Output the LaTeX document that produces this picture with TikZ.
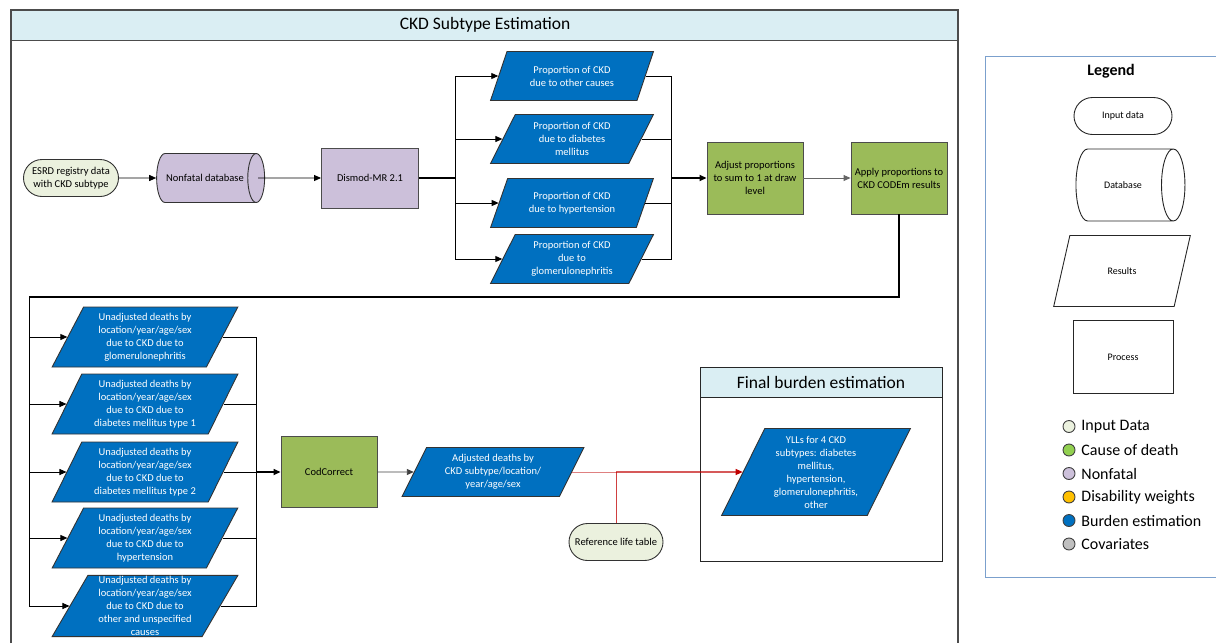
\documentclass[tikz,border=0pt]{standalone}
\usepackage{fontspec}
\setmainfont{Carlito}
\usetikzlibrary{arrows.meta, shapes.geometric, shapes.misc}

\definecolor{ckdblue}{HTML}{0070C0}
\definecolor{ckdgreen}{HTML}{9BBB59}
\definecolor{nfpurple}{HTML}{CCC0DA}
\definecolor{inputcol}{HTML}{EBF1DE}
\definecolor{bandblue}{HTML}{DAEEF3}
\definecolor{ckdred}{HTML}{C00000}
\definecolor{legblue}{HTML}{7BA0CD}
\definecolor{codgreen}{HTML}{92D050}
\definecolor{dwyellow}{HTML}{FFC000}
\definecolor{covgray}{HTML}{BFBFBF}

\begin{document}
\begin{tikzpicture}[x=1pt, y=-1pt, >={Triangle[length=7pt, width=6pt]}, line width=0.9pt,
  thick/.style={line width=1.6pt},
  every node/.style={font=\fontsize{10.5}{13}\selectfont, align=center, inner sep=1pt},
  inputbox/.style={rounded rectangle, draw=black!80, fill=inputcol, minimum width=97, minimum height=37},
  procbox/.style={rectangle, draw=black!70, fill=ckdgreen, minimum width=96, minimum height=72},
  nfbox/.style={rectangle, draw=black!70, fill=nfpurple, minimum width=97, minimum height=60},
  dbbox/.style={cylinder, aspect=1.8, draw=black!80, fill=nfpurple, minimum width=49, minimum height=108},
  resbox/.style={trapezium, trapezium left angle=64, trapezium right angle=116, trapezium stretches=true,
    draw=black!80, fill=ckdblue, text=white},
  propbox/.style={resbox, minimum width=163, minimum height=49},
  deathbox/.style={resbox, minimum width=186, minimum height=60},
  bandtitle/.style={font=\fontsize{17.5}{20}\selectfont},
  legitem/.style={anchor=west, font=\fontsize{16}{18}\selectfont},
  legdot/.style={circle, draw=black!75, minimum size=12, inner sep=0pt},
  legshape/.style={draw=black!85, font=\fontsize{10}{12}\selectfont}]
\useasboundingbox (0,0) rectangle (1216,643);

% outer frame
\fill[bandblue] (11,10) rectangle (958,40);
\draw[black!70, line width=1.4pt] (11,643) |- (958,10) -- (958,643);
\draw[black!70] (11,40) -- (958,40);
\node[bandtitle] (maintitle) at (485,25) {CKD Subtype Estimation};

% nonfatal branch
\node[inputbox] (esrd) at (71,178) {ESRD registry data\\with CKD subtype};
\node[dbbox] (nfdb) at (205,178) {Nonfatal database};
\node[nfbox] (dismod) at (370,178) {Dismod-MR 2.1};

\node[propbox] (p1) at (572,76) {Proportion of CKD\\due to other causes};
\node[propbox] (p2) at (572,139) {Proportion of CKD\\due to diabetes\\mellitus};
\node[propbox] (p3) at (572,203) {Proportion of CKD\\due to hypertension};
\node[propbox] (p4) at (572,259) {Proportion of CKD\\due to\\glomerulonephritis};

\node[procbox] (adjust) at (755,178) {Adjust proportions\\to sum to 1 at draw\\level};
\node[procbox] (apply) at (899,178) {Apply proportions to\\CKD CODEm results};

\coordinate (split1) at (455,178);
\coordinate (join1) at (671,178);

\draw[->] (esrd) -- (nfdb);
\draw[->] ([xshift=-7pt]nfdb.east) -- (dismod);
\draw[thick] (dismod) -- (split1);
\foreach \p in {p1,p2,p3,p4} {
  \draw[->] (split1) |- (\p.west);
  \draw (\p.east) -| (join1);
}
\draw[->, thick] (join1) -- (adjust);
\draw[->, black!60] (adjust) -- (apply);

% deaths branch
\node[deathbox] (u1) at (145,337) {Unadjusted deaths by\\location/year/age/sex\\due to CKD due to\\glomerulonephritis};
\node[deathbox] (u2) at (145,404) {Unadjusted deaths by\\location/year/age/sex\\due to CKD due to\\diabetes mellitus type 1};
\node[deathbox] (u3) at (145,472) {Unadjusted deaths by\\location/year/age/sex\\due to CKD due to\\diabetes mellitus type 2};
\node[deathbox] (u4) at (145,538) {Unadjusted deaths by\\location/year/age/sex\\due to CKD due to\\hypertension};
\node[deathbox] (u5) at (145,606) {Unadjusted deaths by\\location/year/age/sex\\due to CKD due to\\other and unspecified\\causes};

\node[procbox, minimum height=71] (codc) at (329,472) {CodCorrect};
\node[resbox, minimum width=182, minimum height=49] (adj) at (493,472) {Adjusted deaths by\\CKD subtype/location/\\year/age/sex};
\node[inputbox, minimum width=96] (reflt) at (616,542) {Reference life table};

\coordinate (turn) at (29,297);
\coordinate (join2) at (256,472);
\coordinate (redjoin) at (reflt.north |- adj.east);

\draw[thick] (apply.south) |- (turn);
\foreach \u in {u1,u2,u3,u4,u5} {
  \draw[->] (turn) |- (\u.west);
  \draw (\u.east) -| (join2);
}
\draw[->, thick] (join2) -- (codc);
\draw[->, black!75] (codc) -- (adj);

% final burden estimation
\fill[bandblue] (700,367) rectangle (942,397);
\draw[black!85] (700,367) rectangle (942,561);
\draw[black!85] (700,397) -- (942,397);
\node[bandtitle] (fbtitle) at (821,382) {Final burden estimation};
\node[resbox, minimum width=189, minimum height=87] (yll) at (816,472)
  {YLLs for 4 CKD\\subtypes: diabetes\\mellitus,\\hypertension,\\glomerulonephritis,\\other};

\draw[ckdred!50] (adj.east) -- (redjoin);
\draw[ckdred!75] (reflt.north) -- (redjoin);
\draw[->, ckdred, line width=1.2pt] (redjoin) -- (yll.west);

% legend
\draw[legblue] (1216,56) -| (985,577) -- (1216,577);
\node[font=\bfseries\fontsize{16}{18}\selectfont] (legtitle) at (1111,71) {Legend};
\node[legshape, rounded rectangle, minimum width=100, minimum height=37] (leginput) at (1123,116) {Input data};
\node[legshape, cylinder, aspect=2.6, minimum width=72, minimum height=109] (legdb) at (1123,185) {Database};
\node[legshape, trapezium, trapezium left angle=62, trapezium right angle=118, trapezium stretches=true,
  minimum width=137, minimum height=71] (legres) at (1122,271) {Results};
\node[legshape, rectangle, minimum width=100, minimum height=73] (legproc) at (1123,357) {Process};

\foreach \c/\t [count=\i] in {inputcol/Input Data, codgreen/Cause of death, nfpurple/Nonfatal,
    dwyellow/Disability weights, ckdblue/Burden estimation, covgray/Covariates} {
  \node[legdot, fill=\c] (dot\i) at (1069, 403+23.5*\i) {};
  \node[legitem] (item\i) at (1080, 403+23.5*\i) {\t};
}
\end{tikzpicture}
\end{document}
